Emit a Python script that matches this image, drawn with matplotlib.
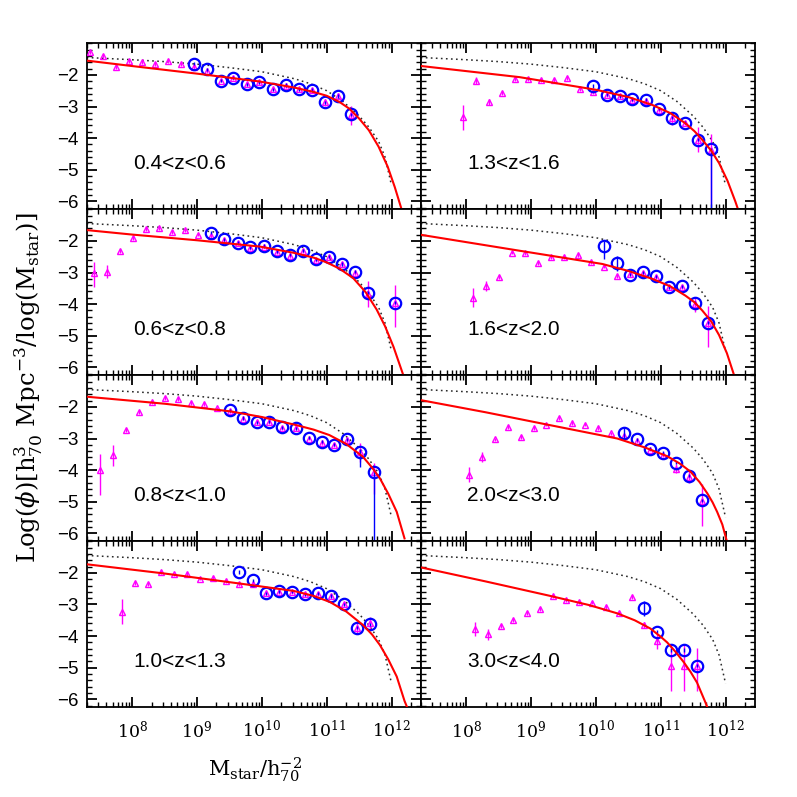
import numpy as np
import matplotlib
matplotlib.use('Agg')
import matplotlib.pyplot as plt
from matplotlib.ticker import FixedLocator, MultipleLocator, LogLocator, NullFormatter

# ---------------- data (log10 M, log10 phi) ----------------
labels = ['0.4<z<0.6', '1.3<z<1.6', '0.6<z<0.8', '1.6<z<2.0',
          '0.8<z<1.0', '2.0<z<3.0', '1.0<z<1.3', '3.0<z<4.0']

# local mass function (black dotted), same in all panels
loc_x = [7.3, 8.0, 8.5, 9.0, 9.5, 10.0, 10.5, 10.75, 11.0, 11.25, 11.5, 11.65, 11.8, 11.9, 12.0]
loc_y = [-1.45, -1.52, -1.58, -1.66, -1.77, -1.90, -2.12, -2.28, -2.50, -2.84, -3.30, -3.65, -4.10, -4.60, -5.50]

# panel 1: 0.4<z<0.6
tri_x_1 = [7.35, 7.55, 7.75, 7.95, 8.15, 8.36, 8.55, 8.76, 8.96, 9.15, 9.37, 9.56, 9.77, 9.96, 10.17, 10.37, 10.57, 10.77, 10.97, 11.18, 11.37]
tri_y_1 = [-1.27, -1.40, -1.74, -1.55, -1.58, -1.65, -1.55, -1.65, -1.74, -1.87, -2.18, -2.11, -2.30, -2.24, -2.46, -2.34, -2.46, -2.48, -2.87, -2.67, -3.27]
tri_lo_1 = [0.06]*18 + [0.12, 0.10, 0.30]
tri_hi_1 = [0.06]*18 + [0.12, 0.10, 0.30]
cir_x_1 = [8.96, 9.15, 9.37, 9.56, 9.77, 9.96, 10.17, 10.37, 10.57, 10.77, 10.97, 11.18, 11.37]
cir_y_1 = [-1.65, -1.82, -2.18, -2.09, -2.30, -2.24, -2.46, -2.32, -2.46, -2.48, -2.87, -2.67, -3.25]
cir_lo_1 = [0.05]*13
cir_hi_1 = [0.05]*13
fit_x_1 = [7.31, 8.0, 9.0, 9.97, 10.5, 10.8, 11.0, 11.2, 11.35, 11.5, 11.65, 11.8, 11.94, 12.05, 12.15]
fit_y_1 = [-1.55, -1.72, -1.96, -2.21, -2.40, -2.54, -2.66, -2.86, -3.07, -3.38, -3.75, -4.27, -4.90, -5.55, -6.22]

# panel 2: 1.3<z<1.6
tri_x_2 = [7.95, 8.15, 8.35, 8.55, 8.75, 8.96, 9.16, 9.36, 9.56, 9.76, 9.96, 10.17, 10.37, 10.56, 10.77, 10.97, 11.18, 11.37, 11.58, 11.78]
tri_y_2 = [-3.34, -2.18, -2.86, -2.58, -2.14, -2.14, -2.16, -2.16, -2.11, -2.45, -2.53, -2.65, -2.68, -2.79, -2.82, -3.11, -3.37, -3.52, -4.05, -4.37]
tri_lo_2 = [0.40, 0.12, 0.10] + [0.06]*13 + [0.20, 0.06, 0.40, 1.70]
tri_hi_2 = [0.40, 0.12, 0.10] + [0.06]*13 + [0.20, 0.06, 0.40, 0.50]
cir_x_2 = [9.96, 10.17, 10.37, 10.56, 10.77, 10.97, 11.18, 11.37, 11.58, 11.78]
cir_y_2 = [-2.35, -2.63, -2.68, -2.77, -2.79, -3.07, -3.35, -3.51, -4.05, -4.35]
cir_lo_2 = [0.05]*9 + [3.0]
cir_hi_2 = [0.05]*10
fit_x_2 = [7.31, 8.82, 10.0, 10.5, 10.87, 11.15, 11.38, 11.52, 11.64, 11.78, 11.9, 12.03, 12.15, 12.2]
fit_y_2 = [-1.72, -2.07, -2.47, -2.70, -2.95, -3.21, -3.53, -3.78, -4.05, -4.40, -4.79, -5.35, -6.00, -6.30]

# panel 3: 0.6<z<0.8
tri_x_3 = [7.41, 7.61, 7.81, 8.01, 8.22, 8.41, 8.62, 8.82, 9.02, 9.22, 9.42, 9.63, 9.82, 10.03, 10.23, 10.43, 10.63, 10.84, 11.04, 11.24, 11.44, 11.64, 12.05]
tri_y_3 = [-3.03, -2.97, -2.32, -1.92, -1.62, -1.58, -1.72, -1.66, -1.80, -1.84, -1.97, -2.08, -2.24, -2.18, -2.34, -2.48, -2.31, -2.60, -2.50, -2.74, -3.01, -3.68, -3.98]
tri_lo_3 = [0.42, 0.20] + [0.06]*19 + [0.40, 0.74]
tri_hi_3 = [0.36, 0.20] + [0.06]*19 + [0.40, 0.57]
cir_x_3 = [9.22, 9.42, 9.63, 9.82, 10.03, 10.23, 10.43, 10.63, 10.84, 11.04, 11.24, 11.44, 11.64, 12.05]
cir_y_3 = [-1.74, -1.95, -2.06, -2.20, -2.16, -2.32, -2.44, -2.31, -2.58, -2.50, -2.73, -2.98, -3.64, -3.95]
cir_lo_3 = [0.05]*14
cir_hi_3 = [0.05]*14
fit_x_3 = [7.31, 8.0, 9.0, 9.97, 10.5, 10.8, 11.0, 11.2, 11.41, 11.6, 11.77, 11.9, 12.03, 12.18]
fit_y_3 = [-1.66, -1.80, -1.98, -2.18, -2.38, -2.53, -2.68, -2.88, -3.18, -3.62, -4.17, -4.70, -5.35, -6.24]

# panel 4: 1.6<z<2.0
tri_x_4 = [8.10, 8.31, 8.50, 8.71, 8.91, 9.11, 9.31, 9.51, 9.72, 9.92, 10.12, 10.32, 10.52, 10.72, 10.92, 11.13, 11.33, 11.53, 11.73]
tri_y_4 = [-3.80, -3.43, -3.13, -2.37, -2.39, -2.70, -2.50, -2.50, -2.45, -2.68, -2.81, -3.10, -3.05, -3.03, -3.15, -3.47, -3.47, -4.01, -4.60]
tri_lo_4 = [0.30, 0.15] + [0.06]*15 + [0.25, 0.75]
tri_hi_4 = [0.30, 0.15] + [0.06]*15 + [0.25, 0.55]
cir_x_4 = [10.12, 10.32, 10.52, 10.72, 10.92, 11.13, 11.33, 11.53, 11.73]
cir_y_4 = [-2.16, -2.70, -3.07, -2.99, -3.12, -3.47, -3.43, -3.96, -4.59]
cir_lo_4 = [0.42, 0.24] + [0.05]*7
cir_hi_4 = [0.16, 0.23] + [0.05]*7
fit_x_4 = [7.31, 8.82, 10.1, 10.5, 10.87, 11.15, 11.38, 11.52, 11.64, 11.78, 11.9, 12.02, 12.13]
fit_y_4 = [-1.81, -2.31, -2.73, -2.95, -3.20, -3.44, -3.73, -3.94, -4.20, -4.55, -4.98, -5.55, -6.24]

# panel 5: 0.8<z<1.0
tri_x_5 = [7.50, 7.70, 7.90, 8.10, 8.30, 8.50, 8.70, 8.91, 9.11, 9.31, 9.51, 9.71, 9.92, 10.11, 10.31, 10.52, 10.72, 10.92, 11.12, 11.32, 11.52, 11.73]
tri_y_5 = [-4.00, -3.53, -2.72, -2.16, -1.84, -1.72, -1.74, -1.87, -1.92, -2.05, -2.13, -2.37, -2.49, -2.47, -2.66, -2.68, -3.00, -3.13, -3.21, -3.05, -3.44, -4.07]
tri_lo_5 = [0.80, 0.33] + [0.06]*17 + [0.10, 0.30, 0.70]
tri_hi_5 = [0.50, 0.33] + [0.06]*17 + [0.10, 0.30, 0.30]
cir_x_5 = [9.51, 9.71, 9.92, 10.11, 10.31, 10.52, 10.72, 10.92, 11.12, 11.32, 11.52, 11.73]
cir_y_5 = [-2.11, -2.35, -2.49, -2.47, -2.64, -2.68, -2.98, -3.10, -3.19, -3.03, -3.44, -4.05]
cir_lo_5 = [0.05]*10 + [0.45, 3.0]
cir_hi_5 = [0.05]*10 + [0.10, 0.10]
fit_x_5 = [7.31, 8.5, 9.51, 10.0, 10.54, 10.8, 11.04, 11.3, 11.56, 11.7, 11.82, 11.95, 12.08, 12.2]
fit_y_5 = [-1.68, -1.90, -2.14, -2.32, -2.58, -2.72, -2.89, -3.17, -3.58, -3.92, -4.26, -4.75, -5.32, -6.16]

# panel 6: 2.0<z<3.0
tri_x_6 = [8.04, 8.24, 8.44, 8.64, 8.84, 9.04, 9.23, 9.43, 9.63, 9.84, 10.04, 10.24, 10.44, 10.64, 10.84, 11.04, 11.24, 11.44, 11.64]
tri_y_6 = [-4.14, -3.58, -3.03, -2.63, -2.95, -2.68, -2.56, -2.34, -2.51, -2.56, -2.66, -2.84, -2.93, -3.08, -3.35, -3.51, -3.95, -4.21, -4.98]
tri_lo_6 = [0.25, 0.15] + [0.06]*14 + [0.15, 0.20, 0.80]
tri_hi_6 = [0.25, 0.15] + [0.06]*14 + [0.15, 0.20, 0.55]
cir_x_6 = [10.44, 10.64, 10.84, 11.04, 11.24, 11.44, 11.64]
cir_y_6 = [-2.84, -3.03, -3.32, -3.45, -3.76, -4.18, -4.95]
cir_lo_6 = [0.20] + [0.05]*6
cir_hi_6 = [0.20] + [0.05]*6
fit_x_6 = [7.31, 8.3, 9.25, 10.33, 10.75, 11.1, 11.3, 11.46, 11.6, 11.72, 11.8, 11.87, 11.95, 12.02]
fit_y_6 = [-1.79, -2.17, -2.56, -3.00, -3.28, -3.56, -3.80, -4.05, -4.38, -4.74, -5.02, -5.32, -5.72, -6.25]

# panel 7: 1.0<z<1.3
tri_x_7 = [7.84, 8.04, 8.24, 8.44, 8.64, 8.85, 9.05, 9.25, 9.45, 9.65, 9.86, 10.06, 10.26, 10.46, 10.66, 10.86, 11.06, 11.27, 11.47, 11.67]
tri_y_7 = [-3.23, -2.32, -2.34, -1.97, -2.05, -2.04, -2.18, -2.15, -2.26, -2.36, -2.34, -2.65, -2.60, -2.62, -2.67, -2.67, -2.74, -2.99, -3.74, -3.60]
tri_lo_7 = [0.40] + [0.06]*17 + [0.20, 0.20]
tri_hi_7 = [0.40] + [0.06]*17 + [0.20, 0.20]
cir_x_7 = [9.65, 9.86, 10.06, 10.26, 10.46, 10.66, 10.86, 11.06, 11.27, 11.47, 11.67]
cir_y_7 = [-1.97, -2.23, -2.65, -2.58, -2.60, -2.68, -2.65, -2.73, -2.99, -3.74, -3.62]
cir_lo_7 = [0.05]*11
cir_hi_7 = [0.05]*11
fit_x_7 = [7.31, 8.5, 9.67, 10.49, 10.8, 11.05, 11.3, 11.56, 11.7, 11.82, 11.95, 12.08, 12.2, 12.25]
fit_y_7 = [-1.73, -2.02, -2.34, -2.57, -2.73, -2.92, -3.22, -3.65, -3.95, -4.28, -4.74, -5.28, -6.05, -6.30]

# panel 8: 3.0<z<4.0
tri_x_8 = [8.13, 8.33, 8.53, 8.73, 8.94, 9.14, 9.34, 9.54, 9.74, 9.94, 10.15, 10.35, 10.55, 10.75, 10.95, 11.16, 11.36, 11.56]
tri_y_8 = [-3.78, -3.94, -3.68, -3.50, -3.28, -3.13, -2.73, -2.85, -2.91, -2.94, -3.09, -3.27, -2.76, -3.64, -4.15, -4.94, -4.94, -4.94]
tri_lo_8 = [0.22, 0.18] + [0.06]*11 + [0.10, 0.25, 0.80, 0.80, 0.80]
tri_hi_8 = [0.22, 0.18] + [0.06]*11 + [0.10, 0.25, 0.70, 0.70, 0.55]
cir_x_8 = [10.75, 10.95, 11.16, 11.36, 11.56]
cir_y_8 = [-3.12, -3.86, -4.44, -4.44, -4.94]
cir_lo_8 = [0.23, 0.05, 0.05, 0.05, 0.05]
cir_hi_8 = [0.23, 0.05, 0.05, 0.05, 0.05]
fit_x_8 = [7.31, 8.3, 9.3, 9.9, 10.33, 10.6, 10.84, 11.0, 11.1, 11.23, 11.35, 11.46, 11.56, 11.69, 11.72]
fit_y_8 = [-1.83, -2.27, -2.73, -3.02, -3.28, -3.50, -3.76, -4.02, -4.20, -4.50, -4.81, -5.13, -5.47, -6.10, -6.26]

panels = [
    (tri_x_1, tri_y_1, tri_lo_1, tri_hi_1, cir_x_1, cir_y_1, cir_lo_1, cir_hi_1, fit_x_1, fit_y_1),
    (tri_x_2, tri_y_2, tri_lo_2, tri_hi_2, cir_x_2, cir_y_2, cir_lo_2, cir_hi_2, fit_x_2, fit_y_2),
    (tri_x_3, tri_y_3, tri_lo_3, tri_hi_3, cir_x_3, cir_y_3, cir_lo_3, cir_hi_3, fit_x_3, fit_y_3),
    (tri_x_4, tri_y_4, tri_lo_4, tri_hi_4, cir_x_4, cir_y_4, cir_lo_4, cir_hi_4, fit_x_4, fit_y_4),
    (tri_x_5, tri_y_5, tri_lo_5, tri_hi_5, cir_x_5, cir_y_5, cir_lo_5, cir_hi_5, fit_x_5, fit_y_5),
    (tri_x_6, tri_y_6, tri_lo_6, tri_hi_6, cir_x_6, cir_y_6, cir_lo_6, cir_hi_6, fit_x_6, fit_y_6),
    (tri_x_7, tri_y_7, tri_lo_7, tri_hi_7, cir_x_7, cir_y_7, cir_lo_7, cir_hi_7, fit_x_7, fit_y_7),
    (tri_x_8, tri_y_8, tri_lo_8, tri_hi_8, cir_x_8, cir_y_8, cir_lo_8, cir_hi_8, fit_x_8, fit_y_8),
]

y_ticks = [-6, -5, -4, -3, -2]
y_ticklabels = ['\u22126', '\u22125', '\u22124', '\u22123', '\u22122']
x_ticks = [8, 9, 10, 11, 12]
x_ticklabels = [r'$10^{8}$', r'$10^{9}$', r'$10^{10}$', r'$10^{11}$', r'$10^{12}$']

# ---------------- figure ----------------
plt.rcParams['mathtext.fontset'] = 'dejavuserif'
fig = plt.figure(figsize=(7.97, 7.97), dpi=100)
gs = fig.add_gridspec(4, 2, left=0.1088, right=0.947, bottom=0.1126, top=0.9457,
                      hspace=0, wspace=0)

for i, (tx, ty, tlo, thi, cx, cy, clo, chi, fx, fy) in enumerate(panels):
    r, c = divmod(i, 2)
    ax = fig.add_subplot(gs[r, c])
    ax.set_xscale('log')
    ax.set_xlim(10**7.30, 10**12.45)
    ax.set_ylim(-6.25, -1.0)

    ax.plot(10**np.array(loc_x), loc_y, color='#2a2a2a', lw=1.1,
            linestyle=(0, (1.1, 2.2)), zorder=2)
    ax.errorbar(10**np.array(tx), ty, yerr=[tlo, thi], fmt='^', ms=5.0,
                mfc='none', mec='magenta', mew=1.0, ecolor='magenta',
                elinewidth=1.0, capsize=0, zorder=3)
    ax.errorbar(10**np.array(cx), cy, yerr=[clo, chi], fmt='o', ms=8.2,
                mfc='none', mec='blue', mew=1.6, ecolor='blue',
                elinewidth=1.0, capsize=0, zorder=4)
    ax.plot(10**np.array(fx), fy, color='red', lw=1.5, zorder=5)

    ax.text(0.14, 0.275, labels[i], transform=ax.transAxes, ha='left', va='center',
            fontsize=15, family='Liberation Sans')

    for s in ax.spines.values():
        s.set_linewidth(1.3)
    ax.yaxis.set_major_locator(FixedLocator(y_ticks))
    ax.yaxis.set_minor_locator(MultipleLocator(0.2))
    ax.xaxis.set_major_locator(FixedLocator([10.0**k for k in x_ticks]))
    ax.xaxis.set_minor_locator(LogLocator(base=10, subs=np.arange(2, 10), numticks=20))
    ax.xaxis.set_minor_formatter(NullFormatter())
    ax.tick_params(which='both', direction='in', top=True, right=True)
    ax.tick_params(which='major', length=7, width=1.3)
    ax.tick_params(which='minor', length=3.5, width=1.0)

    if c == 0:
        ax.set_yticklabels(y_ticklabels, fontsize=13.5, family='Liberation Sans')
        ax.tick_params(axis='y', pad=6)
    else:
        ax.set_yticklabels([])
    if r == 3:
        ax.set_xticklabels(x_ticklabels, fontsize=12.5)
        ax.tick_params(axis='x', pad=9)
    else:
        ax.set_xticklabels([])

fig.text(0.036, 0.513, r'Log($\phi$)[h$^{3}_{70}$ Mpc$^{-3}$/log(M$_{\rm star}$)]',
         rotation=90, ha='center', va='center', fontsize=17.5, family='DejaVu Serif')
fig.text(0.32, 0.034, r'M$_{\rm star}$/h$^{-2}_{70}$', ha='center', va='center',
         fontsize=15, family='DejaVu Serif')

fig.savefig('out.png', dpi=100)
